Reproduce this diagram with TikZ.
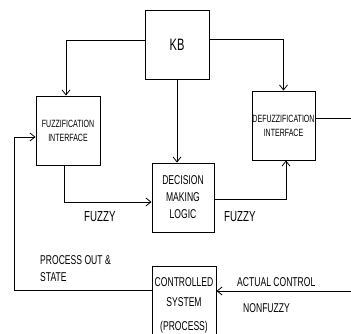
\documentclass[tikz,border=0pt]{standalone}
\usepackage{fontspec}
\setmainfont{Liberation Sans}
\newfontfamily\nf[FakeStretch=0.67]{Liberation Sans}
\usetikzlibrary{arrows.meta}
\begin{document}
\begin{tikzpicture}[x=1pt,y=-1pt,
  box/.style={draw,line width=0.9pt,inner sep=0pt,align=center,font=\nf\fontsize{10.5}{14}\selectfont},
  conn/.style={line width=0.9pt},
  arr/.style={conn,-{Straight Barb[length=5pt,width=8pt,line width=0.8pt]}},
  lbl/.style={inner sep=0pt,align=left,font=\nf\fontsize{12.8}{17}\selectfont}]
\useasboundingbox (0,0) rectangle (351,333);
\clip (0,0) rectangle (351,333);
\fill[white] (0,0) rectangle (351,333);
\node[box,minimum width=64pt,minimum height=69pt,font=\nf\fontsize{16.5}{18}\selectfont] (kb) at (177,44.5) {KB};
\node[box,minimum width=64pt,minimum height=69pt] (fuzz) at (68,130.5) {FUZZIFICATION\\INTERFACE};
\node[box,minimum width=63pt,minimum height=69pt] (defuzz) at (283.5,125.5) {DEFUZZIFICATION\\INTERFACE};
\node[box,minimum width=62pt,minimum height=69pt,font=\nf\fontsize{12.8}{17}\selectfont] (dec) at (183,197.5) {DECISION\\MAKING\\LOGIC};
\node[box,minimum width=64pt,minimum height=76pt,font=\nf\fontsize{12.8}{20}\selectfont,text depth=0pt] (ctrl) at (184,304) {CONTROLLED\\SYSTEM\\[4pt](PROCESS)};
\coordinate (outR) at (351,118);
\coordinate (inR) at (351,291);
\coordinate (fbL) at (14,137);
\draw[arr] ([yshift=4.5pt]kb.west) -| ([xshift=-2pt]fuzz.north);
\draw[arr] ([yshift=5.5pt]kb.east) -| (defuzz.north);
\draw[arr] (kb.south) -- (kb.south |- dec.north);
\draw[arr] ([xshift=-4pt]fuzz.south) |- ([yshift=-4.5pt]dec.west);
\draw[arr] ([yshift=-1.5pt]dec.east) -| ([xshift=2.5pt]defuzz.south);
\draw[conn] ([yshift=7.5pt]defuzz.east) -- (outR);
\draw[arr] (inR) -- (inR -| ctrl.east);
\draw[arr] ([yshift=14pt]ctrl.west) -| (fbL) -- (fbL -| fuzz.west);
\node[lbl,font=\nf\fontsize{14.5}{16}\selectfont] (f1) at (84,217) [anchor=west] {FUZZY};
\node[lbl,font=\nf\fontsize{14.5}{16}\selectfont] (f2) at (224,217) [anchor=west] {FUZZY};
\node[lbl,anchor=west] (pos) at (40,268.5) {PROCESS OUT \&\\STATE};
\node[lbl,anchor=west] (ac) at (237,282) {ACTUAL CONTROL};
\node[lbl,anchor=west] (nf) at (243,308) {NONFUZZY};
\end{tikzpicture}
\end{document}
